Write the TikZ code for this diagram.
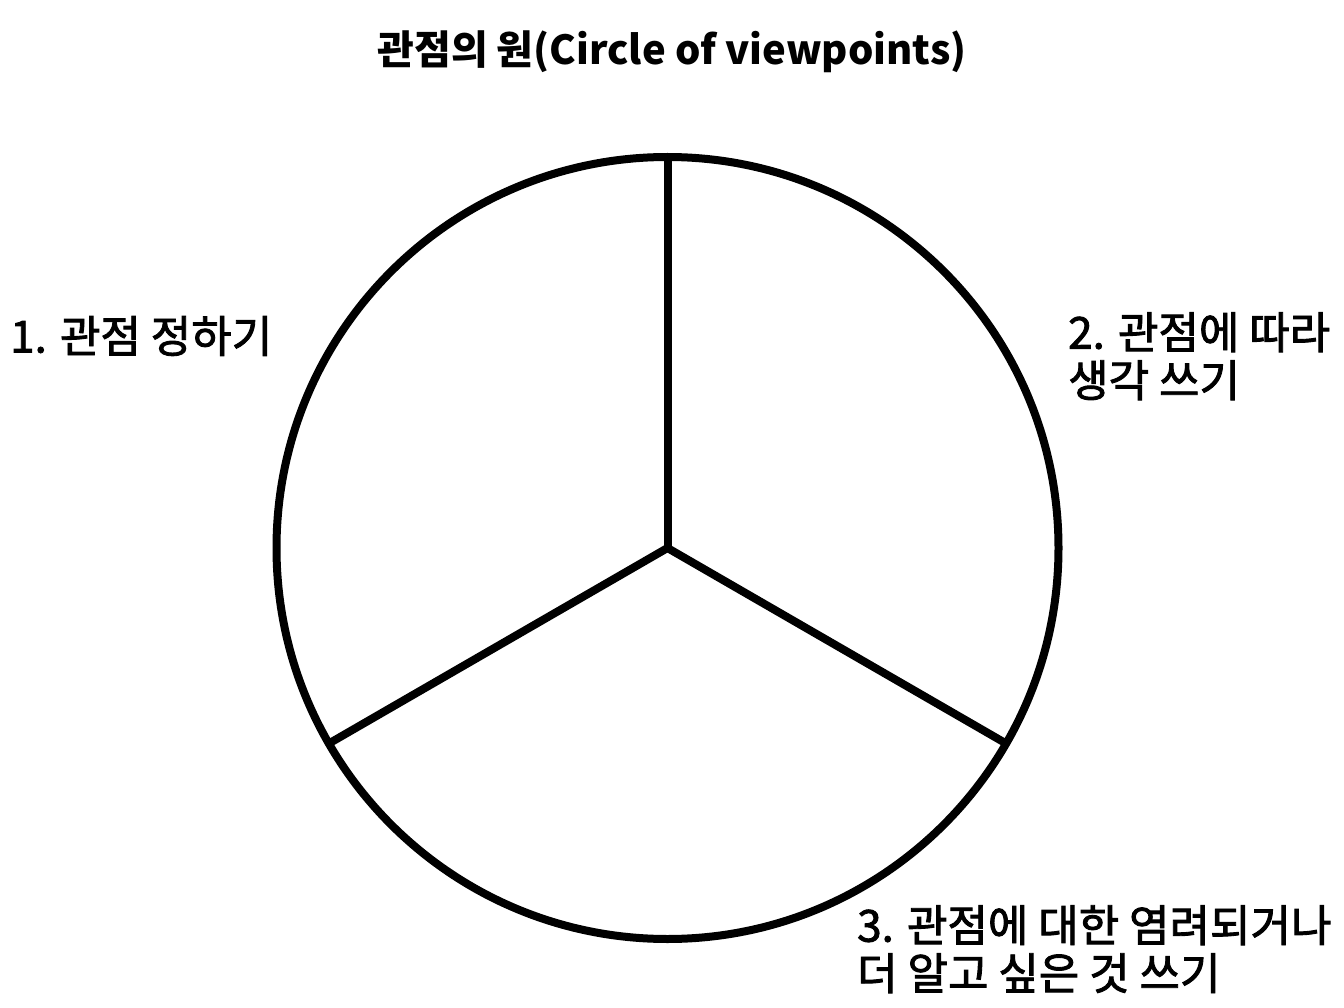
\documentclass[tikz,border=0pt]{standalone}
\usepackage{fontspec}
\setmainfont{Noto Sans CJK KR}
\begin{document}
\begin{tikzpicture}[x=1pt,y=-1pt,
  wheel/.style={line width=8pt,draw=black},
  lbl/.style={font=\fontsize{44}{48}\selectfont\addfontfeatures{FakeBold=2},align=left,inner sep=0pt},
  ttl/.style={font=\fontsize{40}{44}\selectfont\bfseries,inner sep=0pt}]
\useasboundingbox[fill=white] (0,0) rectangle (1344,1008);
\coordinate (c) at (667.5,548);
\draw[wheel] (c) circle[radius=391];
\path (c) ++(0,-391) coordinate (p1);
\path (c) ++(338.6,195.5) coordinate (p2);
\path (c) ++(-338.6,195.5) coordinate (p3);
\draw[wheel] (c) -- (p1);
\draw[wheel] (c) -- (p2);
\draw[wheel] (c) -- (p3);
\node[ttl] (title) at (672,52) {관점의 원(Circle of viewpoints)};
\node[lbl,anchor=west] (l1) at (10,336) {1. 관점 정하기};
\node[lbl,anchor=north west] (l2) at (1068,312) {2. 관점에 따라\\생각 쓰기};
\node[lbl,anchor=north west] (l3) at (857,905) {3. 관점에 대한 염려되거나\\더 알고 싶은 것 쓰기};
\end{tikzpicture}
\end{document}
